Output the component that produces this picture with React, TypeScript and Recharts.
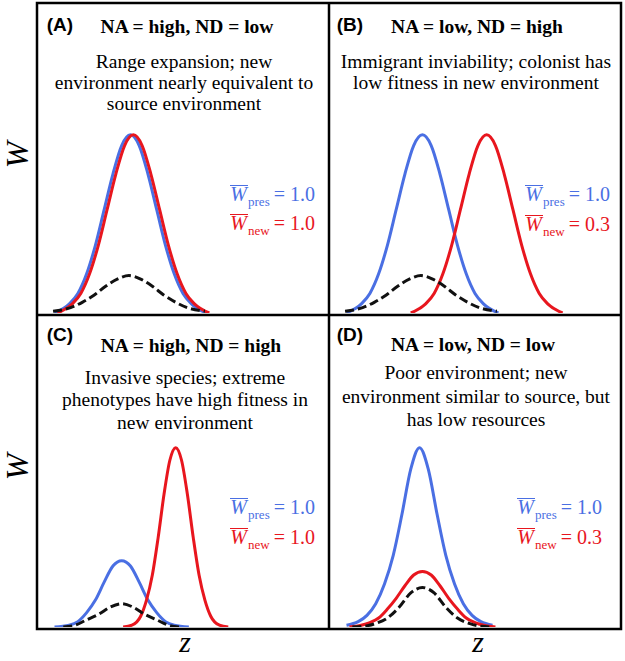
import { LineChart, Line, XAxis, YAxis } from 'recharts';

const BLUE = '#4a6fe3';
const RED = '#e8161e';
const SERIF = '"Liberation Serif", "Times New Roman", serif';
const SANS = '"Liberation Sans", Arial, sans-serif';

// fitness curves, z on a 0-100 scale per panel, W relative to peak
const presA = [
  { z: 6, w: 0 }, { z: 11, w: 0.05 }, { z: 14, w: 0.11 }, { z: 17, w: 0.22 }, { z: 20, w: 0.38 },
  { z: 23, w: 0.58 }, { z: 26, w: 0.78 }, { z: 29, w: 0.94 }, { z: 32, w: 1 }, { z: 35, w: 0.94 },
  { z: 38, w: 0.78 }, { z: 41, w: 0.58 }, { z: 44, w: 0.38 }, { z: 47, w: 0.22 }, { z: 50, w: 0.11 },
  { z: 53, w: 0.05 }, { z: 58, w: 0 },
];
const newA = [
  { z: 7, w: 0 }, { z: 12, w: 0.05 }, { z: 15, w: 0.11 }, { z: 18, w: 0.22 }, { z: 21, w: 0.38 },
  { z: 24, w: 0.58 }, { z: 27, w: 0.78 }, { z: 30, w: 0.94 }, { z: 33, w: 1 }, { z: 36, w: 0.94 },
  { z: 39, w: 0.78 }, { z: 42, w: 0.58 }, { z: 45, w: 0.38 }, { z: 48, w: 0.22 }, { z: 51, w: 0.11 },
  { z: 54, w: 0.05 }, { z: 59, w: 0 },
];
const distA = [
  { z: 5.5, w: 0.01 }, { z: 11.5, w: 0.03 }, { z: 15.5, w: 0.06 }, { z: 19.5, w: 0.1 }, { z: 23.5, w: 0.15 },
  { z: 27.5, w: 0.19 }, { z: 31.5, w: 0.21 }, { z: 35.5, w: 0.19 }, { z: 39.5, w: 0.15 }, { z: 43.5, w: 0.1 },
  { z: 47.5, w: 0.06 }, { z: 51.5, w: 0.03 }, { z: 57.5, w: 0.01 },
];

const presB = presA;
const newB = [
  { z: 28, w: 0 }, { z: 33, w: 0.05 }, { z: 36, w: 0.11 }, { z: 39, w: 0.22 }, { z: 42, w: 0.38 },
  { z: 45, w: 0.58 }, { z: 48, w: 0.78 }, { z: 51, w: 0.94 }, { z: 54, w: 1 }, { z: 57, w: 0.94 },
  { z: 60, w: 0.78 }, { z: 63, w: 0.58 }, { z: 66, w: 0.38 }, { z: 69, w: 0.22 }, { z: 72, w: 0.11 },
  { z: 75, w: 0.05 }, { z: 80, w: 0 },
];
const distB = distA;

const presC = [
  { z: 6, w: 0 }, { z: 11, w: 0.01 }, { z: 14, w: 0.03 }, { z: 17, w: 0.08 }, { z: 20, w: 0.15 },
  { z: 23, w: 0.25 }, { z: 26, w: 0.34 }, { z: 29, w: 0.37 }, { z: 32, w: 0.34 }, { z: 35, w: 0.25 },
  { z: 38, w: 0.15 }, { z: 41, w: 0.08 }, { z: 44, w: 0.03 }, { z: 47, w: 0.01 }, { z: 52, w: 0 },
];
const newC = [
  { z: 29.5, w: 0 }, { z: 32.5, w: 0.01 }, { z: 35.5, w: 0.06 }, { z: 37.5, w: 0.15 }, { z: 39.5, w: 0.29 },
  { z: 41.5, w: 0.5 }, { z: 43.5, w: 0.74 }, { z: 45.5, w: 0.93 }, { z: 47.5, w: 1 }, { z: 49.5, w: 0.93 },
  { z: 51.5, w: 0.74 }, { z: 53.5, w: 0.5 }, { z: 55.5, w: 0.29 }, { z: 57.5, w: 0.15 }, { z: 59.5, w: 0.06 },
  { z: 62.5, w: 0.01 }, { z: 65.5, w: 0 },
];
const distC = [
  { z: 9, w: 0 }, { z: 13, w: 0.01 }, { z: 17, w: 0.04 }, { z: 21, w: 0.07 }, { z: 25, w: 0.11 },
  { z: 29, w: 0.13 }, { z: 33, w: 0.11 }, { z: 37, w: 0.07 }, { z: 41, w: 0.04 }, { z: 45, w: 0.01 },
  { z: 49, w: 0 },
];

const presD = [
  { z: 6, w: 0.01 }, { z: 10, w: 0.03 }, { z: 13, w: 0.065 }, { z: 16, w: 0.13 }, { z: 19, w: 0.24 },
  { z: 22, w: 0.4 }, { z: 25, w: 0.63 }, { z: 28, w: 0.88 }, { z: 31, w: 1 }, { z: 34, w: 0.88 },
  { z: 37, w: 0.63 }, { z: 40, w: 0.4 }, { z: 43, w: 0.24 }, { z: 46, w: 0.13 }, { z: 49, w: 0.065 },
  { z: 52, w: 0.03 }, { z: 56, w: 0.01 },
];
const newD = [
  { z: 7, w: 0 }, { z: 11, w: 0.01 }, { z: 14, w: 0.025 }, { z: 17, w: 0.05 }, { z: 20, w: 0.1 },
  { z: 23, w: 0.16 }, { z: 26, w: 0.23 }, { z: 29, w: 0.29 }, { z: 32, w: 0.31 }, { z: 35, w: 0.29 },
  { z: 38, w: 0.23 }, { z: 41, w: 0.16 }, { z: 44, w: 0.1 }, { z: 47, w: 0.05 }, { z: 50, w: 0.025 },
  { z: 53, w: 0.01 }, { z: 57, w: 0 },
];
const distD = [
  { z: 8, w: 0 }, { z: 12, w: 0.004 }, { z: 16, w: 0.02 }, { z: 20, w: 0.05 }, { z: 24, w: 0.11 },
  { z: 28, w: 0.19 }, { z: 32, w: 0.22 }, { z: 36, w: 0.19 }, { z: 40, w: 0.11 }, { z: 44, w: 0.05 },
  { z: 48, w: 0.02 }, { z: 52, w: 0.004 }, { z: 56, w: 0 },
];

const panelLabels = ['(A)', '(B)', '(C)', '(D)'];
const panelTitles = ['NA = high, ND = low', 'NA = low, ND = high', 'NA = high, ND = high', 'NA = low, ND = low'];
const panelNotes = [
  ['Range expansion; new', 'environment nearly equivalent to', 'source environment'],
  ['Immigrant inviability; colonist has', 'low fitness in new environment'],
  ['Invasive species; extreme', 'phenotypes have high fitness in', 'new environment'],
  ['Poor environment; new', 'environment similar to source, but', 'has low resources'],
];
const presMeans = ['1.0', '1.0', '1.0', '1.0'];
const newMeans = ['1.0', '0.3', '1.0', '0.3'];

const curves = [
  [presA, newA, distA],
  [presB, newB, distB],
  [presC, newC, distC],
  [presD, newD, distD],
];

// layout of each panel on the page
const layout = [
  { left: 37, top: 3, h: 310, labelX: 60, labelY: 25, titleX: 187, titleY: 27, noteX: 184, noteY: [62, 83, 104], legRight: 315, legY: [194, 223] },
  { left: 329, top: 3, h: 310, labelX: 350, labelY: 25, titleX: 477, titleY: 27, noteX: 476, noteY: [62, 83], legRight: 610, legY: [194, 224] },
  { left: 37, top: 315, h: 312, labelX: 60, labelY: 335, titleX: 191, titleY: 346, noteX: 185, noteY: [378, 400, 423], legRight: 315, legY: [507, 537] },
  { left: 329, top: 315, h: 312, labelX: 350, labelY: 335, titleX: 473, titleY: 345, noteX: 476, noteY: [373, 397, 420], legRight: 602, legY: [507, 537] },
];

const Centered = ({ x, y, children, style }: any) => (
  <div
    style={{
      position: 'absolute',
      left: x - 170,
      width: 340,
      top: y - 11,
      height: 22,
      lineHeight: '22px',
      textAlign: 'center',
      whiteSpace: 'nowrap',
      ...style,
    }}
  >
    {children}
  </div>
);

const Legend = ({ right, y, color, sub, value }: any) => (
  <div
    style={{
      position: 'absolute',
      right: 625 - right,
      top: y - 12,
      height: 24,
      lineHeight: '24px',
      fontFamily: SERIF,
      fontSize: 20,
      color,
      whiteSpace: 'nowrap',
    }}
  >
    <span
      style={{
        fontStyle: 'italic',
        display: 'inline-block',
        borderTop: `1.5px solid ${color}`,
        lineHeight: 0.8,
        paddingRight: 1,
      }}
    >
      W
    </span>
    <span style={{ fontSize: 13, position: 'relative', top: 5 }}>{sub}</span>
    <span>{'\u2009'}= {value}</span>
  </div>
);

const App = () => {
  return (
    <div style={{ position: 'absolute', left: 0, top: 0, width: 625, height: 661, overflow: 'hidden', background: '#fff', fontFamily: SERIF }}>
      {layout.map((p, i) => (
        <div key={`chart-${i}`} style={{ position: 'absolute', left: p.left, top: p.top }}>
          <LineChart width={292} height={p.h} margin={{ top: 0, right: 0, bottom: 0, left: 0 }}>
            <XAxis type="number" dataKey="z" domain={[0, 100]} hide />
            <YAxis type="number" dataKey="w" domain={[0, 1.74]} hide />
            <Line data={curves[i][0]} dataKey="w" type="monotone" stroke={BLUE} strokeWidth={3} dot={false} isAnimationActive={false} />
            <Line data={curves[i][1]} dataKey="w" type="monotone" stroke={RED} strokeWidth={3} dot={false} isAnimationActive={false} />
            <Line data={curves[i][2]} dataKey="w" type="monotone" stroke="#111" strokeWidth={3} strokeDasharray="9 4" dot={false} isAnimationActive={false} />
          </LineChart>
        </div>
      ))}

      <svg width={625} height={661} style={{ position: 'absolute', left: 0, top: 0, pointerEvents: 'none' }}>
        <rect x={37} y={3} width={584} height={626} fill="none" stroke="#000" strokeWidth={2.5} />
        <line x1={329} y1={3} x2={329} y2={629} stroke="#000" strokeWidth={2.5} />
        <line x1={37} y1={315} x2={621} y2={315} stroke="#000" strokeWidth={2.5} />
      </svg>

      {layout.map((p, i) => (
        <div key={`text-${i}`}>
          <Centered x={p.labelX} y={p.labelY} style={{ fontFamily: SANS, fontWeight: 'bold', fontSize: 19 }}>
            {panelLabels[i]}
          </Centered>
          <Centered x={p.titleX} y={p.titleY} style={{ fontWeight: 'bold', fontSize: 19.5 }}>
            {panelTitles[i]}
          </Centered>
          {panelNotes[i].map((line, j) => (
            <Centered key={j} x={p.noteX} y={p.noteY[j]} style={{ fontSize: 19.5 }}>
              {line}
            </Centered>
          ))}
          <Legend right={p.legRight} y={p.legY[0]} color={BLUE} sub="pres" value={presMeans[i]} />
          <Legend right={p.legRight} y={p.legY[1]} color={RED} sub="new" value={newMeans[i]} />
        </div>
      ))}

      {[155, 467].map((y) => (
        <div
          key={`w-${y}`}
          style={{
            position: 'absolute',
            left: 17 - 20,
            top: y - 20,
            width: 40,
            height: 40,
            lineHeight: '40px',
            textAlign: 'center',
            fontSize: 32,
            fontStyle: 'italic',
            transform: 'rotate(-90deg)',
          }}
        >
          W
        </div>
      ))}
      {[185, 478].map((x) => (
        <div
          key={`z-${x}`}
          style={{
            position: 'absolute',
            left: x - 20,
            top: 627,
            width: 40,
            height: 30,
            lineHeight: '30px',
            textAlign: 'center',
            fontSize: 30,
            fontStyle: 'italic',
          }}
        >
          z
        </div>
      ))}
    </div>
  );
};

export default App;
